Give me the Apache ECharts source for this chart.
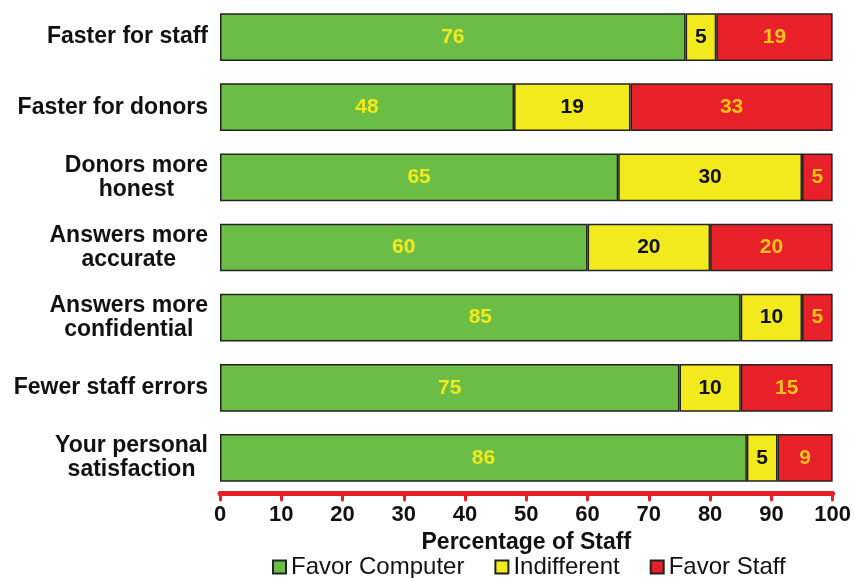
<!DOCTYPE html>
<html><head><meta charset="utf-8">
<script src="https://cdn.jsdelivr.net/npm/echarts@6/dist/echarts.min.js"></script>
<style>html,body{margin:0;padding:0;background:#fff}#c{width:854px;height:578px}</style>
</head><body><div id="c"></div>
<script>
var categories = ["Faster for staff","Faster for donors","Donors more\nhonest","Answers more\naccurate","Answers more\nconfidential","Fewer staff errors","Your personal\nsatisfaction"];
var favorComputer = [76,48,65,60,85,75,86];
var indifferent = [5,19,30,20,10,10,5];
var favorStaff = [19,33,5,20,5,15,9];
var xTicks = [0,10,20,30,40,50,60,70,80,90,100];

var font = '"Liberation Sans", Arial, sans-serif';
function mk(name, data, color, labelColor) {
  return {
    name: name, type: 'bar', stack: 'all', data: data,
    barCategoryGap: '32%',
    itemStyle: { color: color, borderColor: '#222', borderWidth: 1.5 },
    label: { show: true, position: 'inside', color: labelColor, fontFamily: font, fontWeight: 'bold', fontSize: 21 }
  };
}
var chart = echarts.init(document.getElementById('c'));
chart.setOption({
  animation: false,
  grid: { left: 220, right: 17, top: 2, bottom: 85, containLabel: false },
  xAxis: {
    type: 'value', min: 0, max: 100, interval: 10,
    name: 'Percentage of Staff', nameLocation: 'middle', nameGap: 37,
    nameTextStyle: { fontFamily: font, fontWeight: 'bold', fontSize: 23, color: '#111' },
    axisLine: { show: true, lineStyle: { color: '#e8202a', width: 5, cap: 'round' } },
    axisTick: { show: true, length: 7, lineStyle: { color: '#e8202a', width: 3, cap: 'round' } },
    axisLabel: { fontFamily: font, fontWeight: 'bold', fontSize: 22, color: '#111', margin: 11,
      formatter: function (v) { return xTicks.indexOf(v) >= 0 ? String(v) : ''; } },
    splitLine: { show: false }
  },
  yAxis: {
    type: 'category', data: categories, inverse: true,
    axisLine: { show: false }, axisTick: { show: false },
    axisLabel: {
      margin: 12, align: 'right',
      formatter: function (v) { return v.split('\n').map(function (l) { return '{c|' + l + '}'; }).join('\n'); },
      rich: { c: { align: 'center', fontFamily: font, fontWeight: 'bold', fontSize: 23, color: '#111', lineHeight: 24 } }
    }
  },
  legend: {
    top: 555, left: 272, padding: 0, itemWidth: 13, itemHeight: 13, itemGap: 30, icon: 'rect',
    textStyle: { fontFamily: font, fontSize: 24, color: '#111' },
    data: ['Favor Computer','Indifferent','Favor Staff']
  },
  series: [
    mk('Favor Computer', favorComputer, '#6cbd45', '#f2ea1c'),
    mk('Indifferent', indifferent, '#f2ea1c', '#111'),
    mk('Favor Staff', favorStaff, '#e8202a', '#f5c518')
  ]
});
</script></body></html>
